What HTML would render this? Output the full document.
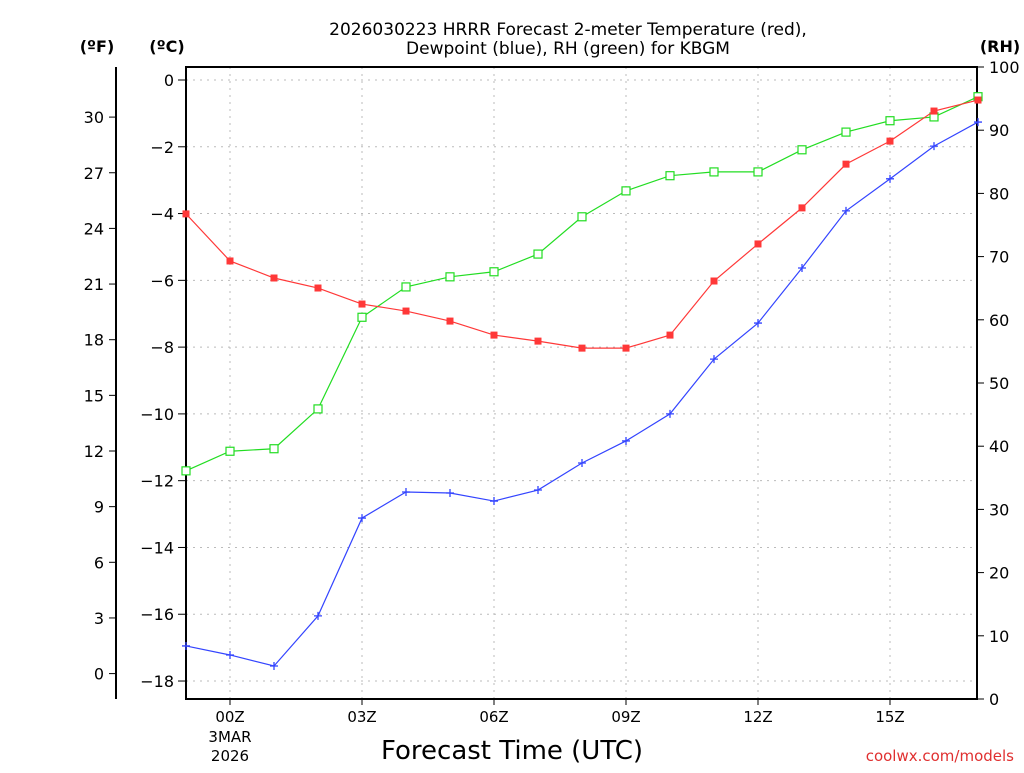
<!DOCTYPE html>
<html><head><meta charset="utf-8"><style>
body{margin:0;background:#fff;width:1024px;height:768px;overflow:hidden}
svg{font-family:"DejaVu Sans","Liberation Sans",sans-serif}
</style></head><body>
<svg id="c" width="1024" height="768" xmlns="http://www.w3.org/2000/svg">
<text x="568" y="35" font-size="17" text-anchor="middle">2026030223 HRRR Forecast 2-meter Temperature (red),</text>
<text x="568" y="54" font-size="17" text-anchor="middle">Dewpoint (blue), RH (green) for KBGM</text>
<text x="97" y="52" font-size="16" font-weight="bold" text-anchor="middle">(ºF)</text>
<text x="167" y="52" font-size="16" font-weight="bold" text-anchor="middle">(ºC)</text>
<text x="1000" y="52" font-size="16" font-weight="bold" text-anchor="middle">(RH)</text>
<text x="512" y="759" font-size="26" text-anchor="middle">Forecast Time (UTC)</text>
<text x="1014" y="761" font-size="15" fill="#e03030" text-anchor="end">coolwx.com/models</text>
<g id="g"></g>
</svg>
<script>
const hours=[-1,0,1,2,3,4,5,6,7,8,9,10,11,12,13,14,15,16,17];
const temp=[-4.01,-5.42,-5.93,-6.23,-6.71,-6.92,-7.22,-7.64,-7.82,-8.03,-8.03,-7.64,-6.02,-4.91,-3.83,-2.52,-1.83,-0.93,-0.6];
const dewp=[-16.95,-17.22,-17.55,-16.05,-13.12,-12.34,-12.37,-12.61,-12.28,-11.47,-10.81,-10.0,-8.36,-7.28,-5.63,-3.92,-2.96,-1.98,-1.26];
const rh=[36.1,39.2,39.6,45.9,60.4,65.2,66.8,67.6,70.4,76.3,80.4,82.8,83.4,83.4,86.9,89.7,91.5,92.1,95.3];
const cTicks=[0,-2,-4,-6,-8,-10,-12,-14,-16,-18];
const fTicks=[30,27,24,21,18,15,12,9,6,3,0];
const rhTicks=[0,10,20,30,40,50,60,70,80,90,100];
const xTicks=[0,3,6,9,12,15];
const xLabels=["00Z","03Z","06Z","09Z","12Z","15Z"];
const L=186,R=977,T=67,B=699;
const X=h=>230+h*44;
const YC=c=>80-c*33.39;
const YR=r=>B-r*(B-T)/100;
const YF=f=>YC((f-32)*5/9);
const g=document.getElementById('g');const NS='http://www.w3.org/2000/svg';
function el(t,a,txt){const e=document.createElementNS(NS,t);for(const k in a)e.setAttribute(k,a[k]);if(txt!==undefined)e.textContent=txt;g.appendChild(e);return e;}
const fm=v=>v<0?'\u2212'+(-v):''+v;
xTicks.forEach((h,i)=>{
 const e=el('line',{x1:X(h),x2:X(h),y1:T,y2:B,stroke:'#bbb','stroke-dasharray':'2,5'});
 
 
 const t=el('line',{x1:X(h),x2:X(h),y1:B,y2:B+6,stroke:'#000'});
 
 
 const l=el('text',{x:X(h),y:722,'font-size':15,'text-anchor':'middle'},xLabels[i]);
 
 
});
const d1=el('text',{x:230,y:742,'font-size':15,'text-anchor':'middle'},'3MAR');


const d2=el('text',{x:230,y:761,'font-size':15,'text-anchor':'middle'},'2026');


cTicks.forEach(c=>{
 const e=el('line',{x1:L,x2:R,y1:YC(c),y2:YC(c),stroke:'#bbb','stroke-dasharray':'2,5'});
 
 
 const t=el('line',{x1:L-8,x2:L,y1:YC(c),y2:YC(c),stroke:'#000'});
 
 
 const l=el('text',{x:L-12,y:YC(c)+6,'font-size':16,'text-anchor':'end'},fm(c));
 
 
});
const fa=el('line',{x1:116,x2:116,y1:67,y2:699,stroke:'#000','stroke-width':2});


fTicks.forEach(f=>{
 const t=el('line',{x1:109,x2:116,y1:YF(f),y2:YF(f),stroke:'#000'});
 
 
 const l=el('text',{x:104,y:YF(f)+6,'font-size':16,'text-anchor':'end'},''+f);
 
 
});
rhTicks.forEach(r=>{
 const t=el('line',{x1:R,x2:R+7,y1:YR(r),y2:YR(r),stroke:'#000'});
 
 
 const l=el('text',{x:989,y:YR(r)+6,'font-size':16},''+r);
 
 
});
const fr=el('rect',{x:L,y:T,width:R-L,height:B-T,fill:'none',stroke:'#000','stroke-width':2});


function series(vals,yf,col,name,mk){
 const p=el('polyline',{points:vals.map((v,i)=>X(hours[i])+','+yf(v)).join(' '),fill:'none',stroke:col,'stroke-width':1.2});
 
 
 vals.forEach((v,i)=>{
  const x=X(hours[i]),y=yf(v);let m;
  if(mk==='sq')m=el('rect',{x:x-3.5,y:y-3.5,width:7,height:7,fill:col});
  else if(mk==='osq')m=el('rect',{x:x-4,y:y-4,width:8,height:8,fill:'#fff',stroke:col,'stroke-width':1.2});
  else m=el('path',{d:`M${x-4} ${y}H${x+4}M${x} ${y-4}V${y+4}`,stroke:col,'stroke-width':1.3});
  
  
 });
}
series(rh,YR,'#22dd22','rh','osq');
series(dewp,YC,'#3344ff','dewpoint','plus');
series(temp,YC,'#ff3838','temperature','sq');
</script>
</body></html>
